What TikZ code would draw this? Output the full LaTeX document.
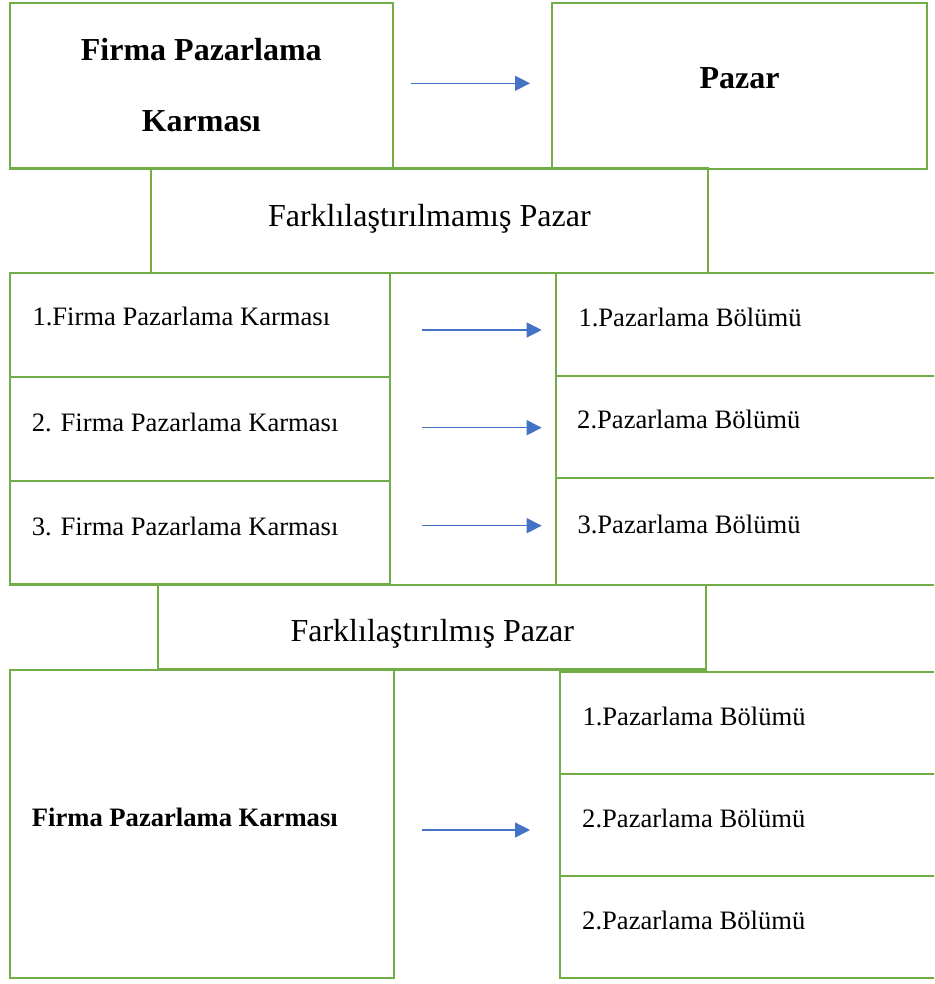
\documentclass[tikz,border=0pt]{standalone}
\usepackage{fontspec}
\setmainfont{Liberation Serif}
\usetikzlibrary{arrows.meta}
\definecolor{gridgreen}{HTML}{70AD47}
\definecolor{arrowblue}{HTML}{4472C4}
\tikzset{
  box/.style={draw=gridgreen, line width=2.2pt, rectangle, anchor=north west,
              inner sep=0pt, outer sep=0pt},
  bigtxt/.style={font=\fontsize{32}{38}\selectfont, inner sep=0pt},
  bigbold/.style={font=\fontsize{32}{38}\selectfont\bfseries, inner sep=0pt},
  smalltxt/.style={font=\fontsize{26.6}{32}\selectfont, inner sep=0pt, anchor=base west},
  smallbold/.style={font=\fontsize{26.6}{32}\selectfont\bfseries, inner sep=0pt, anchor=base west},
  arr/.style={draw=arrowblue, line width=1.3pt, -{Triangle[length=15pt,width=15pt]}}
}
\begin{document}
\begin{tikzpicture}[x=1pt,y=-1pt]
\useasboundingbox (0,0) rectangle (934,984);
\clip (0,0) rectangle (934,984);

% top section
\node[box, minimum width=382.7pt, minimum height=165.2pt] (boxA) at (10,3.3) {};
\node[box, minimum width=375pt, minimum height=165.7pt] (pazarbox) at (552,3.3) {};
\node[box, minimum width=557.3pt, minimum height=104.2pt] (farkA) at (150.7,168.5) {};

\node[bigbold, anchor=base] (tA1) at (201.3,61) {Firma Pazarlama};
\node[bigbold, anchor=base] (tA2) at (201.3,131.7) {Karması};
\node[bigbold, anchor=base] (tPazar) at (739.5,89) {Pazar};
\node[bigtxt, anchor=base] (tFarkA) at (429.3,226.7) {Farklılaştırılmamış Pazar};

% middle section
\node[box, minimum width=380pt, minimum height=104pt] (L1) at (10,272.7) {};
\node[box, minimum width=380pt, minimum height=104.3pt] (L2) at (10,376.7) {};
\node[box, minimum width=380pt, minimum height=103.5pt] (L3) at (10,481) {};
\node[box, minimum width=384pt, minimum height=102.4pt] (R1) at (556.3,273.3) {};
\node[box, minimum width=384pt, minimum height=102.6pt] (R2) at (556.3,375.7) {};
\node[box, minimum width=384pt, minimum height=106.7pt] (R3) at (556.3,478.3) {};

\node[smalltxt] (tL1) at (32.3,325.7) {1.Firma Pazarlama Karması};
\node[smalltxt] (tL2) at (31.7,431) {2. Firma Pazarlama Karması};
\node[smalltxt] (tL3) at (31.7,535.7) {3. Firma Pazarlama Karması};
\node[smalltxt] (tR1) at (578.3,326.7) {1.Pazarlama Bölümü};
\node[smalltxt] (tR2) at (577,428.3) {2.Pazarlama Bölümü};
\node[smalltxt] (tR3) at (577.3,533.3) {3.Pazarlama Bölümü};

% lower section
\node[box, minimum width=548pt, minimum height=84.5pt] (farkB) at (158.3,585) {};
\node[bigtxt, anchor=base] (tFarkB) at (432.3,641.7) {Farklılaştırılmış Pazar};

\node[box, minimum width=384.3pt, minimum height=308.3pt] (bigL) at (10,670) {};
\node[box, minimum width=380pt, minimum height=102.3pt] (R4) at (560,671.7) {};
\node[box, minimum width=380pt, minimum height=102pt] (R5) at (560,774) {};
\node[box, minimum width=380pt, minimum height=102.3pt] (R6) at (560,876) {};

\node[smallbold] (tBig) at (31.7,826.7) {Firma Pazarlama Karması};
\node[smalltxt] (tR4) at (582.3,725) {1.Pazarlama Bölümü};
\node[smalltxt] (tR5) at (582,827.7) {2.Pazarlama Bölümü};
\node[smalltxt] (tR6) at (582,929.3) {2.Pazarlama Bölümü};

% arrows
\coordinate (s0) at (410.7,83.3);  \coordinate (e0) at (530,83.3);
\coordinate (s1) at (422.3,330);   \coordinate (e1) at (541.7,330);
\coordinate (s2) at (422.3,427.7); \coordinate (e2) at (541.7,427.7);
\coordinate (s3) at (422.3,525.7); \coordinate (e3) at (541.7,525.7);
\coordinate (s4) at (422.3,830);   \coordinate (e4) at (530,830);
\draw[arr] (s0) -- (e0);
\draw[arr] (s1) -- (e1);
\draw[arr] (s2) -- (e2);
\draw[arr] (s3) -- (e3);
\draw[arr] (s4) -- (e4);
\end{tikzpicture}
\end{document}
